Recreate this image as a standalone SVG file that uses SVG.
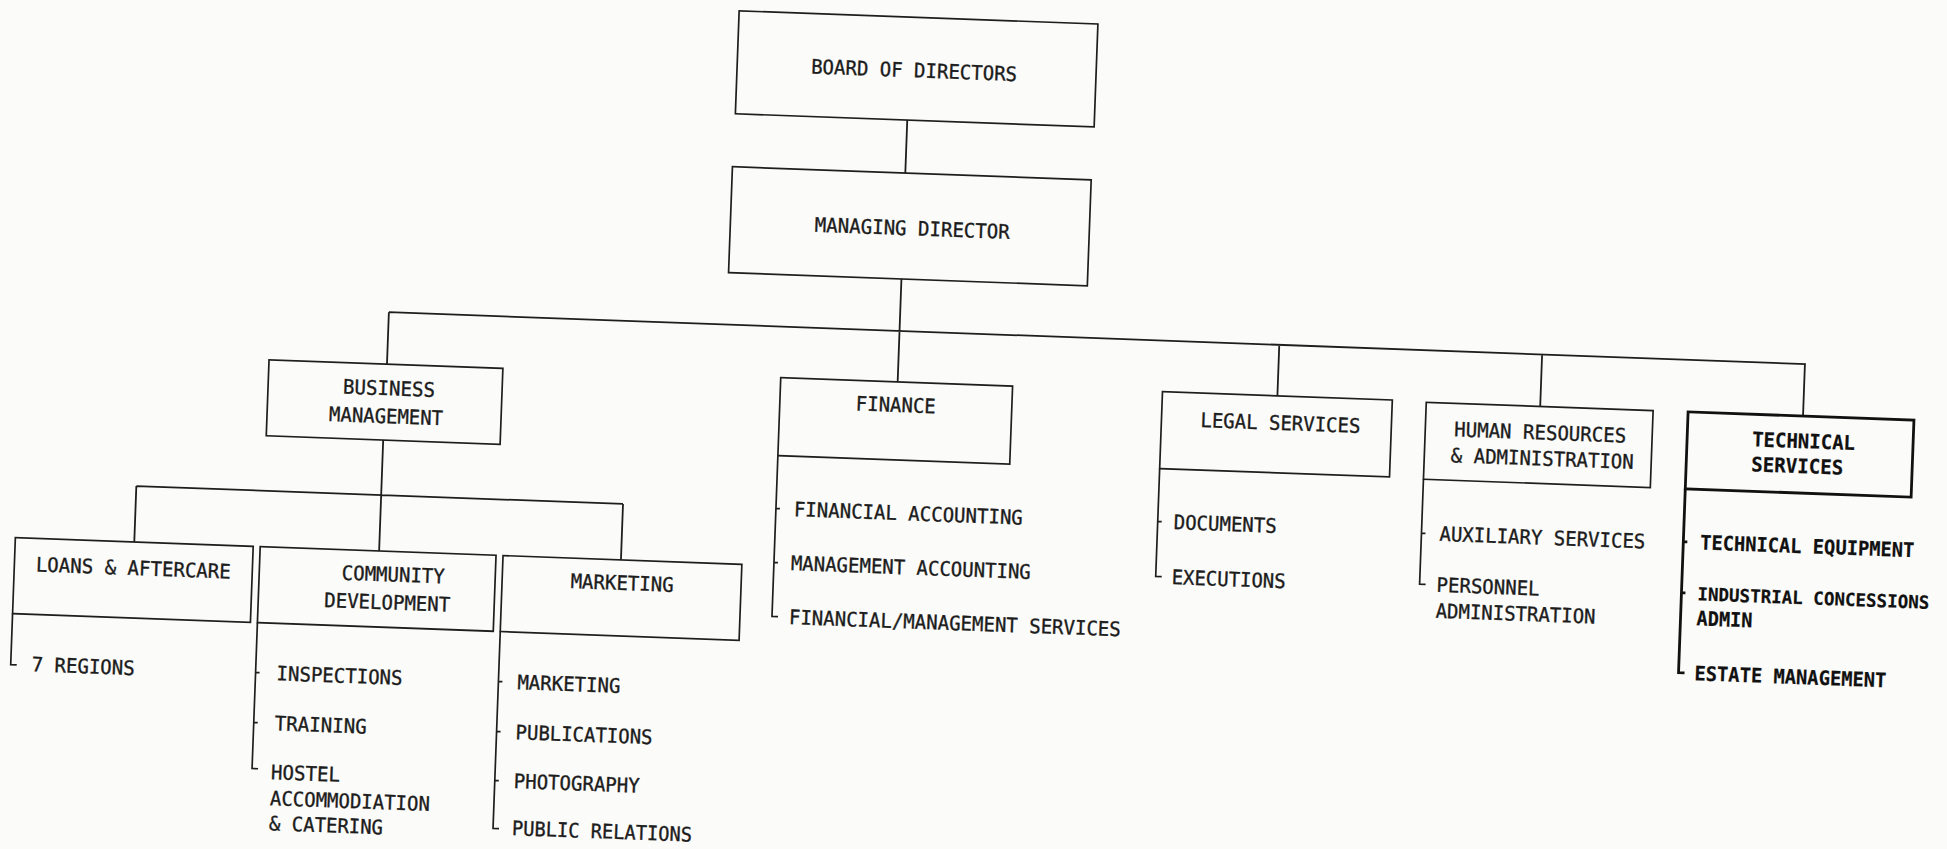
<svg xmlns="http://www.w3.org/2000/svg" width="1947" height="849" viewBox="0 0 1947 849">
<style>
.bx{fill:none;stroke:#1e1e1e;stroke-width:1.7}
.bk{fill:none;stroke:#1e1e1e;stroke-width:1.7}
.bold{stroke-width:2.8;stroke:#111}
.cn{fill:none;stroke:#1e1e1e;stroke-width:1.8}
text{font-family:"DejaVu Sans Mono","Liberation Mono",monospace;font-size:20px;fill:#1c1c1c;stroke:#1c1c1c;stroke-width:0.35}
.m{text-anchor:middle}
.tb{font-weight:bold;fill:#111;stroke:#111;stroke-width:0.2}
.sm{font-size:18px}
</style>
<rect x="0" y="0" width="1947" height="849" fill="#fbfbf9"/>
<g transform="rotate(2.1 900 400)">
<g id="connectors">
<path class="cn" d="M897 120V173M897 279V382M386 331H1804M386 331V383M1277 331V382M1540 331V383M1803 331V383"/>
<path class="cn" d="M385 459V570M140 514H627M140 514V570M627 514V570"/>
</g>
<g id="board">
<rect class="bx" x="725" y="17" width="359" height="103"/>
<text class="m" x="902" y="77" textLength="206" lengthAdjust="spacingAndGlyphs">BOARD OF DIRECTORS</text>
</g>
<g id="managing-director">
<rect class="bx" x="724" y="173" width="359" height="106"/>
<text class="m" x="906" y="235" textLength="195" lengthAdjust="spacingAndGlyphs">MANAGING DIRECTOR</text>
</g>
<g id="business-management">
<rect class="bx" x="268" y="383" width="234" height="76"/>
<text class="m" x="389" y="414" textLength="92" lengthAdjust="spacingAndGlyphs">BUSINESS</text>
<text class="m" x="387" y="442" textLength="114" lengthAdjust="spacingAndGlyphs">MANAGEMENT</text>
</g>
<g id="finance">
<rect class="bx" x="780" y="382" width="232" height="78"/>
<path class="bk" d="M780 460V621H786M780 513H784M780 567H784"/>
<text class="m" x="896" y="412" textLength="80" lengthAdjust="spacingAndGlyphs">FINANCE</text>
<text x="798" y="520" textLength="229" lengthAdjust="spacingAndGlyphs">FINANCIAL ACCOUNTING</text>
<text x="797" y="574" textLength="240" lengthAdjust="spacingAndGlyphs">MANAGEMENT ACCOUNTING</text>
<text x="797" y="628" textLength="332" lengthAdjust="spacingAndGlyphs">FINANCIAL/MANAGEMENT SERVICES</text>
</g>
<g id="legal-services">
<rect class="bx" x="1162" y="382" width="230" height="77"/>
<path class="bk" d="M1162 459V567H1168M1162 512H1166"/>
<text class="m" x="1281" y="416" textLength="160" lengthAdjust="spacingAndGlyphs">LEGAL SERVICES</text>
<text x="1178" y="519" textLength="103" lengthAdjust="spacingAndGlyphs">DOCUMENTS</text>
<text x="1178" y="574" textLength="114" lengthAdjust="spacingAndGlyphs">EXECUTIONS</text>
</g>
<g id="human-resources">
<rect class="bx" x="1426" y="383" width="227" height="77"/>
<path class="bk" d="M1426 460V565H1432M1426 514H1430"/>
<text class="m" x="1541" y="416" textLength="172" lengthAdjust="spacingAndGlyphs">HUMAN RESOURCES</text>
<text class="m" x="1544" y="442" textLength="183" lengthAdjust="spacingAndGlyphs">&amp; ADMINISTRATION</text>
<text x="1444" y="521" textLength="206" lengthAdjust="spacingAndGlyphs">AUXILIARY SERVICES</text>
<text x="1443" y="572" textLength="103" lengthAdjust="spacingAndGlyphs">PERSONNEL</text>
<text x="1443" y="598" textLength="160" lengthAdjust="spacingAndGlyphs">ADMINISTRATION</text>
</g>
<g id="technical-services">
<rect class="bx bold" x="1688" y="383" width="226" height="77"/>
<path class="bk bold" d="M1688 460V644H1694M1688 513H1692M1688 564H1692"/>
<text class="tb" x="1753" y="415" textLength="103" lengthAdjust="spacingAndGlyphs">TECHNICAL</text>
<text class="tb" x="1753" y="440" textLength="92" lengthAdjust="spacingAndGlyphs">SERVICES</text>
<text class="tb" x="1705" y="520" textLength="214" lengthAdjust="spacingAndGlyphs">TECHNICAL EQUIPMENT</text>
<text class="tb sm" x="1704" y="571" textLength="232" lengthAdjust="spacingAndGlyphs">INDUSTRIAL CONCESSIONS</text>
<text class="tb" x="1704" y="596" textLength="56" lengthAdjust="spacingAndGlyphs">ADMIN</text>
<text class="tb" x="1704" y="651" textLength="192" lengthAdjust="spacingAndGlyphs">ESTATE MANAGEMENT</text>
</g>
<g id="loans-aftercare">
<rect class="bx" x="21" y="570" width="238" height="76"/>
<path class="bk" d="M21 646V697H27"/>
<text class="m" x="140" y="603" textLength="195" lengthAdjust="spacingAndGlyphs">LOANS &amp; AFTERCARE</text>
<text x="42" y="703" textLength="103" lengthAdjust="spacingAndGlyphs">7 REGIONS</text>
</g>
<g id="community-development">
<rect class="bx" x="266" y="570" width="236" height="76"/>
<path class="bk" d="M266 646V792H272M266 696H270M266 746H270"/>
<text class="m" x="400" y="600" textLength="103" lengthAdjust="spacingAndGlyphs">COMMUNITY</text>
<text class="m" x="395" y="628" textLength="126" lengthAdjust="spacingAndGlyphs">DEVELOPMENT</text>
<text x="287" y="703" textLength="126" lengthAdjust="spacingAndGlyphs">INSPECTIONS</text>
<text x="287" y="753" textLength="92" lengthAdjust="spacingAndGlyphs">TRAINING</text>
<text x="285" y="802" textLength="69" lengthAdjust="spacingAndGlyphs">HOSTEL</text>
<text x="285" y="828" textLength="160" lengthAdjust="spacingAndGlyphs">ACCOMMODIATION</text>
<text x="285" y="853" textLength="114" lengthAdjust="spacingAndGlyphs">&amp; CATERING</text>
</g>
<g id="marketing">
<rect class="bx" x="509" y="570" width="239" height="76"/>
<path class="bk" d="M509 646V843H515M509 696H513M509 746H513M509 795H513"/>
<text class="m" x="629" y="600" textLength="103" lengthAdjust="spacingAndGlyphs">MARKETING</text>
<text x="528" y="703" textLength="103" lengthAdjust="spacingAndGlyphs">MARKETING</text>
<text x="528" y="753" textLength="137" lengthAdjust="spacingAndGlyphs">PUBLICATIONS</text>
<text x="528" y="802" textLength="126" lengthAdjust="spacingAndGlyphs">PHOTOGRAPHY</text>
<text x="528" y="849" textLength="180" lengthAdjust="spacingAndGlyphs">PUBLIC RELATIONS</text>
</g>
</g>
</svg>
